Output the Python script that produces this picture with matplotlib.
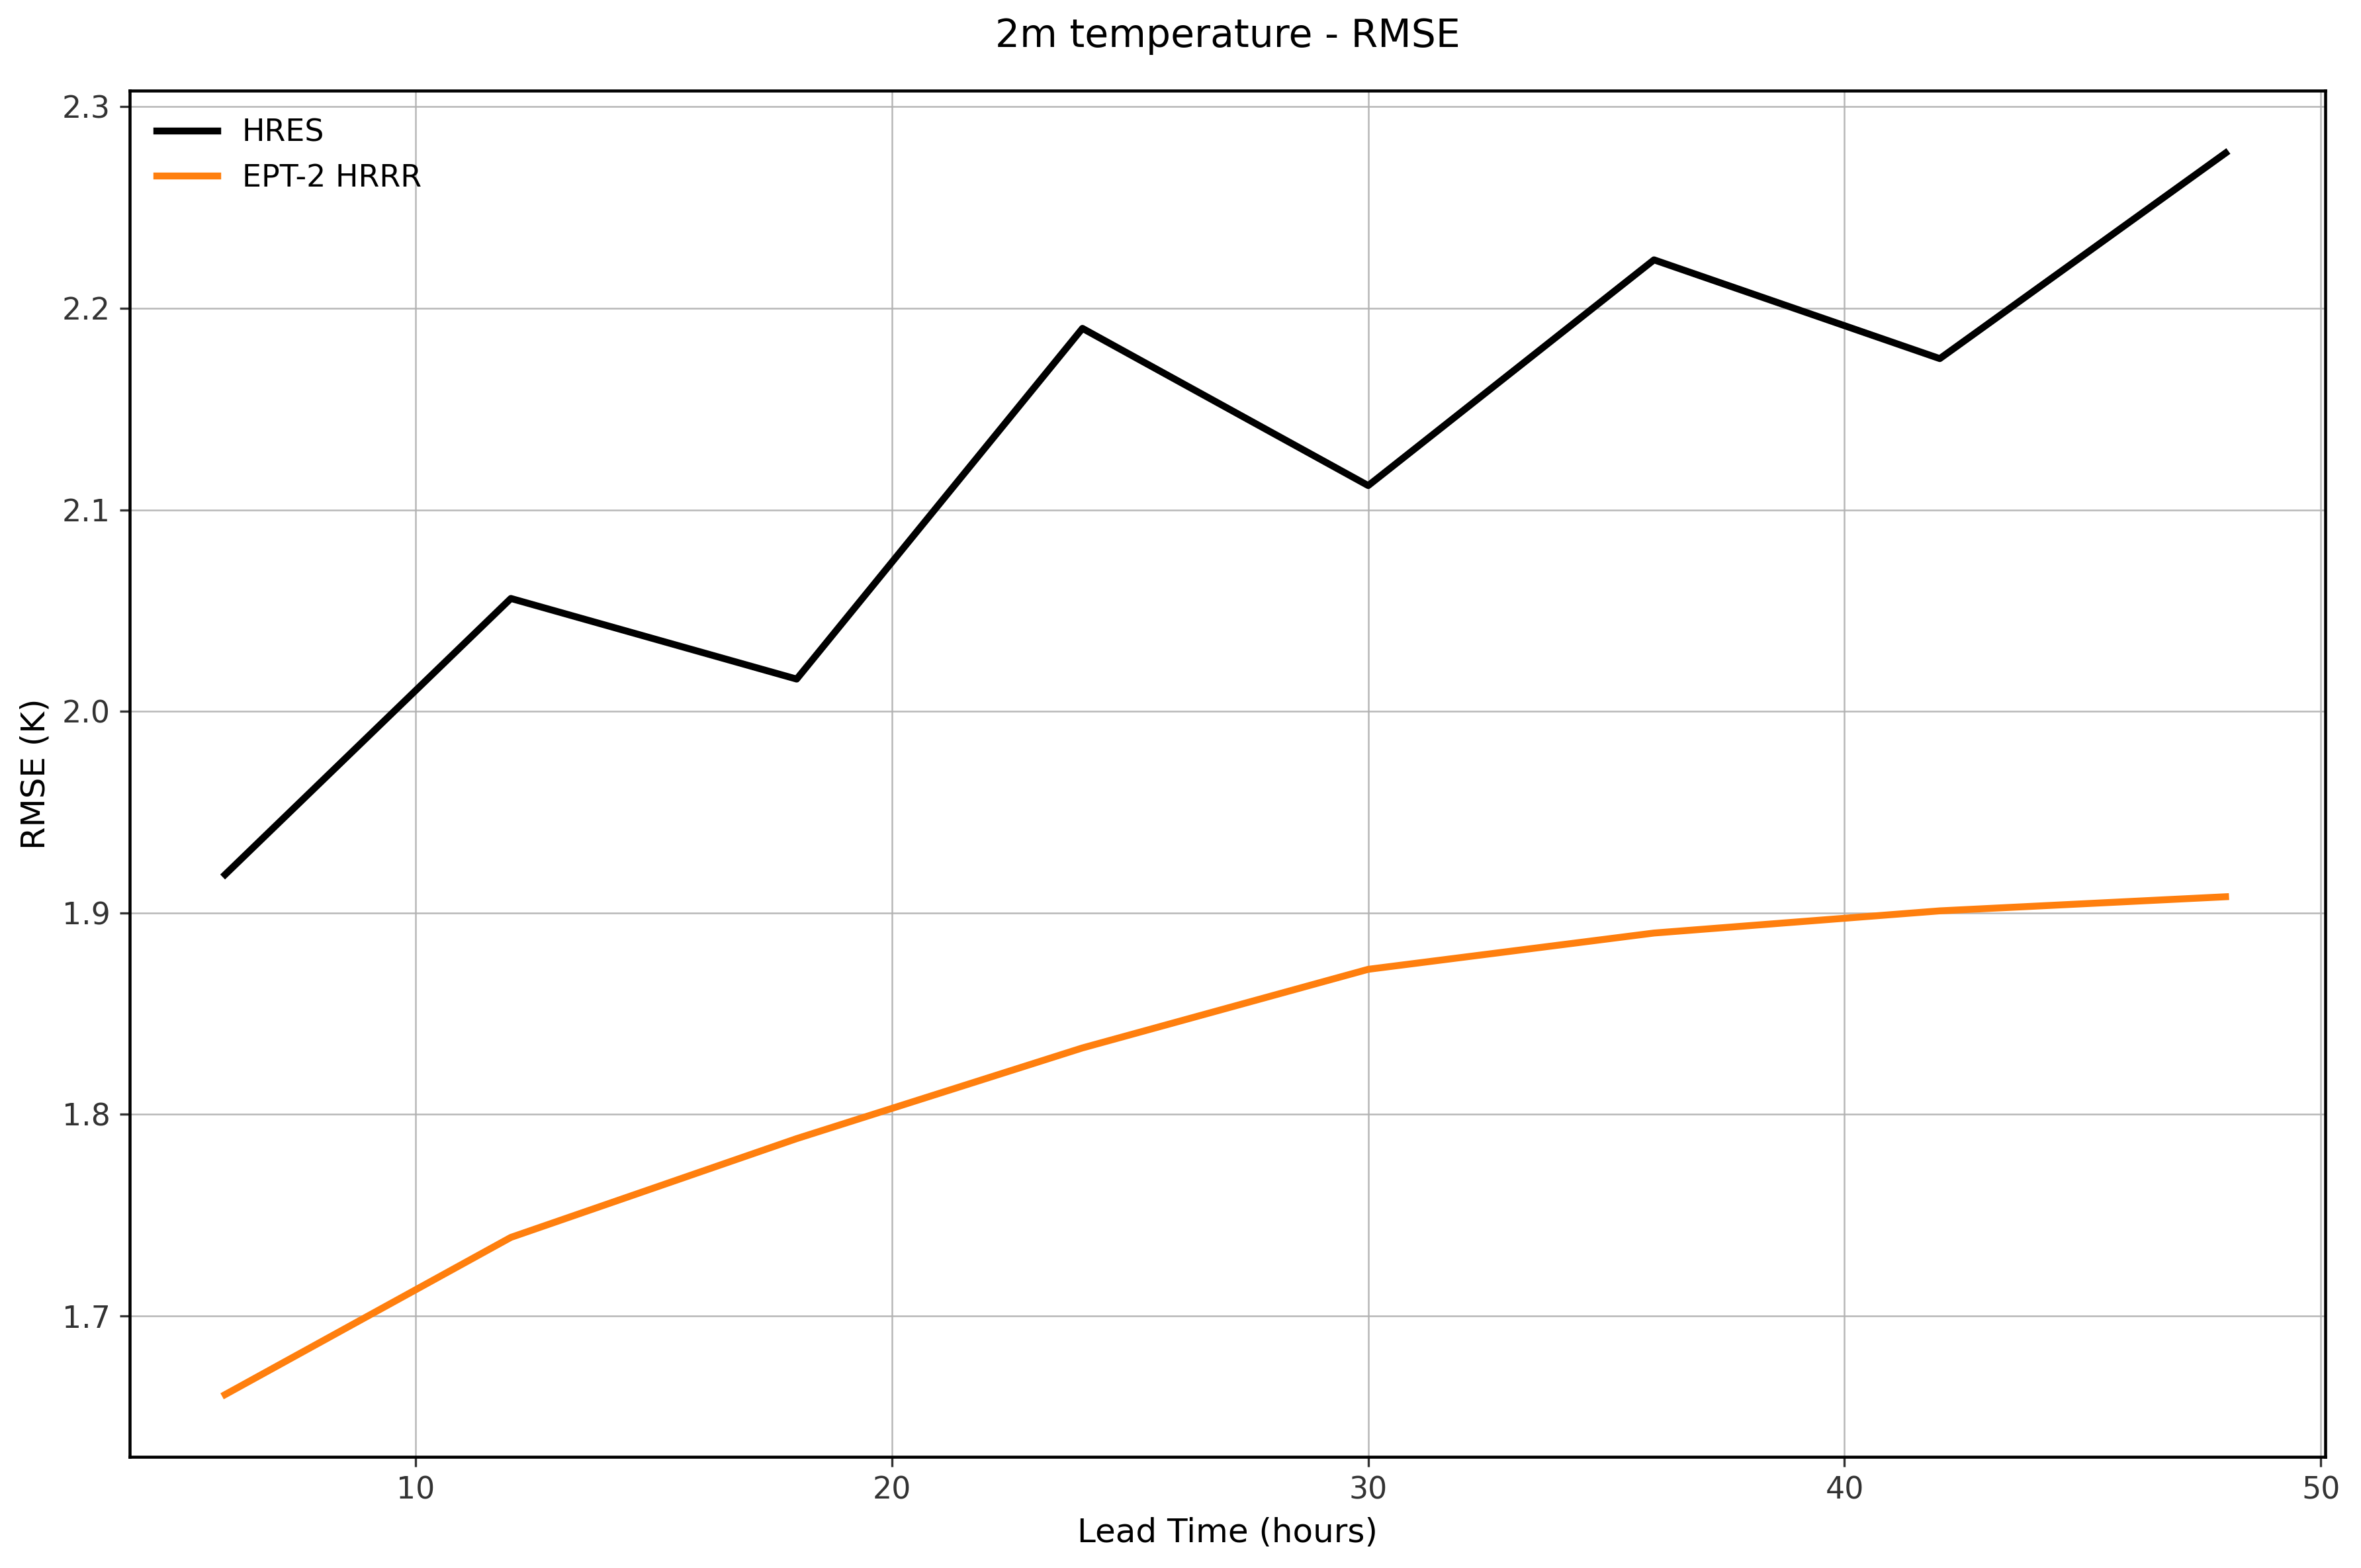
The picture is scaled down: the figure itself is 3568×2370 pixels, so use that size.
import numpy as np
import matplotlib.pyplot as plt

lead_hours = [6, 12, 18, 24, 30, 36, 42, 48]
hres_rmse = [1.919, 2.056, 2.016, 2.190, 2.112, 2.224, 2.175, 2.277]
ept_rmse = [1.661, 1.739, 1.788, 1.833, 1.872, 1.890, 1.901, 1.908]

fig, ax = plt.subplots(figsize=(3568 / 300, 2370 / 300), dpi=300)
fig.subplots_adjust(left=0.055, right=0.985, top=0.942, bottom=0.071)

ax.plot(lead_hours, hres_rmse, color='black', linewidth=2.5, label='HRES')
ax.plot(lead_hours, ept_rmse, color='#ff7f0e', linewidth=2.5, label='EPT-2 HRRR')

ax.set_xlim(4, 50.1)
ax.set_xlabel('Lead Time (hours)', fontsize=12)
ax.set_ylabel('RMSE (K)', fontsize=12)
ax.set_title('2m temperature - RMSE', fontsize=14, pad=16)
ax.tick_params(labelsize=11, colors='#333333')
for spine in ax.spines.values():
    spine.set_linewidth(1.1)
ax.grid(True, color='#b0b0b0', linewidth=0.6, alpha=0.9)
ax.legend(loc='upper left', frameon=False, fontsize=11)

fig.savefig('out.png', dpi=300)
